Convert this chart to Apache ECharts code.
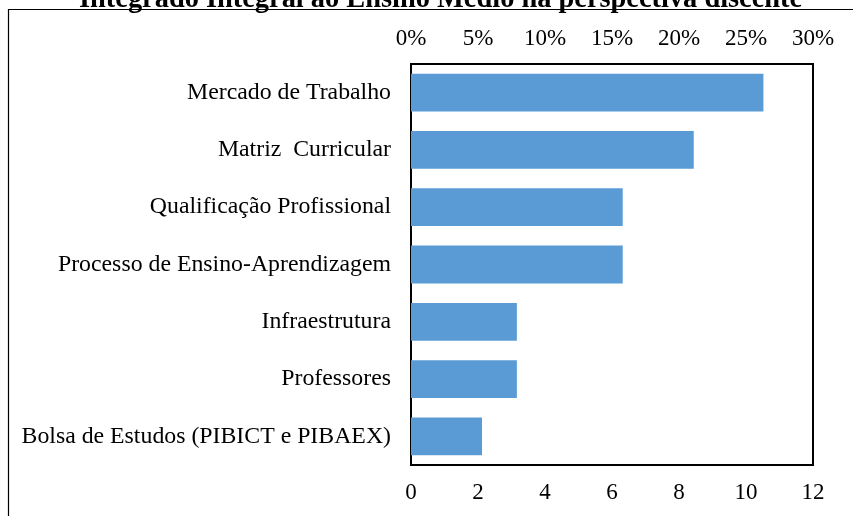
<!DOCTYPE html>
<html>
<head>
<meta charset="utf-8">
<script src="https://cdn.jsdelivr.net/npm/echarts@6/dist/echarts.min.js"></script>
<style>
    html, body { margin: 0; padding: 0; background: #fff; }
    #chart { width: 853px; height: 516px; }
</style>
</head>
<body>
<div id="chart"></div>
<script>
// categories, top to bottom
const categories = [
    'Mercado de Trabalho',
    'Matriz  Curricular',
    'Qualificação Profissional',
    'Processo de Ensino-Aprendizagem',
    'Infraestrutura',
    'Professores',
    'Bolsa de Estudos (PIBICT e PIBAEX)'
]
// share of answers, in percent (drawn on the top axis)
const percentValues = [26.3, 21.1, 15.8, 15.8, 7.9, 7.9, 5.3]
// tick ranges of the two axes
const percentTicks = [0, 30, 5]
const countTicks = [0, 12, 2]

const titleText = 'Integrado Integral ao Ensino Médio na perspectiva discente'
const serif = "'Liberation Serif', 'Times New Roman', serif"

let chart = echarts.init(document.getElementById('chart'))
chart.setOption({
    animation: false,
    color: ['#5b9bd5'],
    title: {
        text: titleText,
        left: 74,
        top: -19,
        textStyle: {
            fontFamily: serif,
            fontSize: 28.4,
            fontWeight: 'bold',
            color: '#000'
        }
    },
    // outer frame of the figure
    graphic: [
        {
            type: 'rect',
            shape: { x: 8.5, y: 9.5, width: 900, height: 600 },
            style: { fill: 'none', stroke: '#000', lineWidth: 1.2 },
            silent: true
        }
    ],
    grid: {
        left: 411,
        right: 40,
        top: 64,
        bottom: 51,
        show: true,
        borderColor: '#000',
        borderWidth: 2,
        backgroundColor: 'transparent'
    },
    xAxis: [
        {
            type: 'value',
            position: 'bottom',
            min: countTicks[0],
            max: countTicks[1],
            interval: countTicks[2],
            axisLine: { show: false },
            axisTick: { show: false },
            splitLine: { show: false },
            axisLabel: {
                margin: 16,
                fontFamily: serif,
                fontSize: 23,
                color: '#000'
            }
        },
        {
            type: 'value',
            position: 'top',
            min: percentTicks[0],
            max: percentTicks[1],
            interval: percentTicks[2],
            axisLine: { show: false },
            axisTick: { show: false },
            splitLine: { show: false },
            axisLabel: {
                margin: 14,
                fontFamily: serif,
                fontSize: 23,
                color: '#000',
                formatter: '{value}%'
            }
        }
    ],
    yAxis: {
        type: 'category',
        inverse: true,
        data: categories,
        axisLine: { show: false },
        axisTick: { show: false },
        axisLabel: {
            margin: 20,
            fontFamily: serif,
            fontSize: 23.8,
            color: '#000'
        }
    },
    series: [
        {
            type: 'bar',
            xAxisIndex: 1,
            barCategoryGap: '34%',
            data: percentValues
        }
    ]
})
</script>
</body>
</html>
